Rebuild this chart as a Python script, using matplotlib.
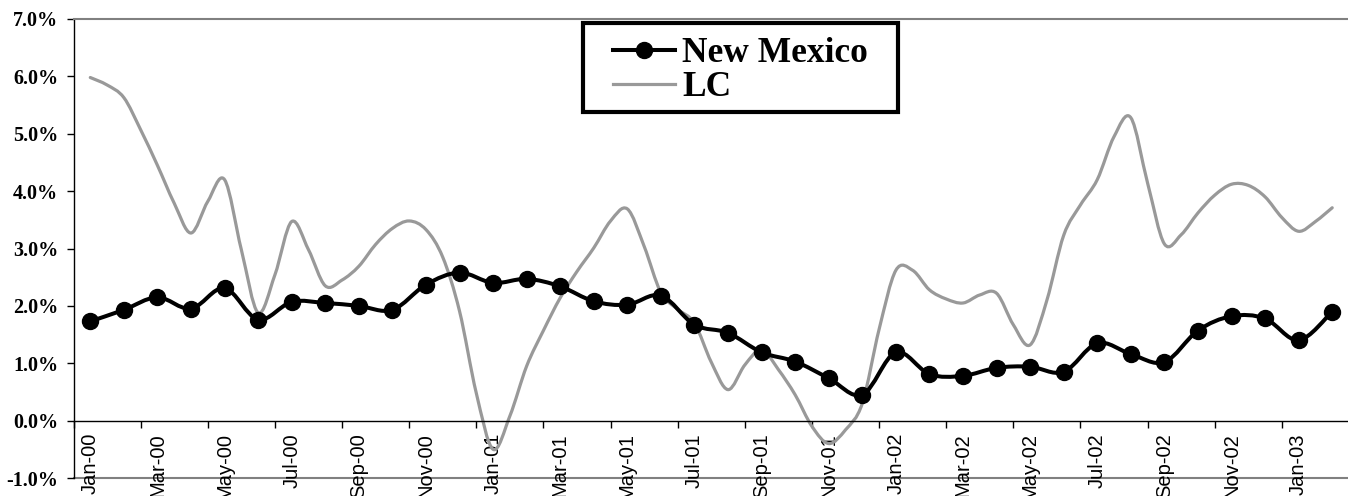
import numpy as np
import matplotlib.pyplot as plt
from matplotlib.lines import Line2D
from matplotlib.patches import PathPatch, Rectangle
from matplotlib.path import Path

# tick labels every second month along the category axis
month_labels = ['Jan-00', 'Mar-00', 'May-00', 'Jul-00', 'Sep-00', 'Nov-00',
                'Jan-01', 'Mar-01', 'May-01', 'Jul-01', 'Sep-01', 'Nov-01',
                'Jan-02', 'Mar-02', 'May-02', 'Jul-02', 'Sep-02', 'Nov-02',
                'Jan-03']

# monthly growth rate, Jan-00 .. Feb-03 (percent)
new_mexico = [1.73, 1.93, 2.15, 1.95, 2.31, 1.76, 2.07, 2.05, 2.00, 1.93,
              2.37, 2.58, 2.40, 2.47, 2.34, 2.08, 2.02, 2.18, 1.67, 1.53,
              1.19, 1.03, 0.74, 0.45, 1.19, 0.81, 0.78, 0.92, 0.94, 0.85,
              1.35, 1.16, 1.02, 1.57, 1.82, 1.78, 1.40, 1.90]

# LC series, sampled twice a month over the same span (percent)
lc = [5.98, 5.85, 5.63, 5.07, 4.45, 3.79, 3.27, 3.82, 4.20, 2.98,
      1.88, 2.54, 3.47, 2.98, 2.35, 2.45, 2.69, 3.07, 3.35, 3.48,
      3.33, 2.85, 1.91, 0.48, -0.50, 0.08, 0.95, 1.57, 2.14, 2.60,
      3.01, 3.48, 3.69, 3.04, 2.23, 1.94, 1.70, 1.02, 0.54, 0.97,
      1.24, 0.89, 0.45, -0.10, -0.40, -0.16, 0.30, 1.59, 2.62, 2.62,
      2.28, 2.12, 2.05, 2.19, 2.22, 1.67, 1.32, 2.10, 3.23, 3.76,
      4.20, 4.95, 5.28, 4.14, 3.08, 3.24, 3.62, 3.93, 4.12, 4.10,
      3.90, 3.54, 3.30, 3.47, 3.71]

serif_bold = {'family': 'Liberation Serif', 'weight': 'bold'}
NM_KW = dict(color='black', lw=2.9)
LC_KW = dict(color='#999999', lw=2.3)


def smoothed(x, y):
    # spreadsheet-style smoothed line: cubic Bezier through every point
    pts = np.column_stack([x, y])
    n = len(pts)
    verts = [pts[0]]
    codes = [Path.MOVETO]
    for i in range(n - 1):
        p0 = pts[max(i - 1, 0)]
        p1 = pts[i]
        p2 = pts[i + 1]
        p3 = pts[min(i + 2, n - 1)]
        verts += [p1 + (p2 - p0) / 6, p2 - (p3 - p1) / 6, p2]
        codes += [Path.CURVE4] * 3
    return Path(verts, codes)


fig = plt.figure(figsize=(13.48, 4.96), dpi=100)
ax = fig.add_axes([73.5 / 1348, 18 / 496, 1275.5 / 1348, 459 / 496])

x_nm = np.arange(len(new_mexico))
x_lc = np.arange(len(lc)) / 2

ax.add_patch(PathPatch(smoothed(x_lc, lc), fill=False, edgecolor=LC_KW['color'],
                       lw=LC_KW['lw'], capstyle='round', joinstyle='round',
                       zorder=2))
ax.add_patch(PathPatch(smoothed(x_nm, new_mexico), fill=False,
                       edgecolor=NM_KW['color'], lw=NM_KW['lw'],
                       capstyle='round', joinstyle='round', zorder=3))
ax.plot(x_nm, new_mexico, ls='none', marker='o', ms=11.5, color='black',
        zorder=3)

ax.set_xlim(-0.5, len(new_mexico) - 0.5)
ax.set_ylim(-1, 7)

# category axis crosses at 0%, tick marks sit between categories
ax.spines['bottom'].set_position(('data', 0))
ax.spines['bottom'].set_linewidth(1.0)
ax.spines['left'].set_linewidth(1.0)
ax.spines['right'].set_visible(False)
ax.spines['top'].set_color('#808080')
ax.spines['top'].set_linewidth(1.5)
ax.axhline(-1, color='#808080', lw=1.5, clip_on=False, zorder=0.5)

ax.set_xticks(np.arange(-0.5, len(new_mexico), 2))
ax.set_xticklabels([])
ax.set_xticks(np.arange(0, len(new_mexico), 2), minor=True)
ax.set_xticklabels(month_labels, minor=True, rotation=90,
                   fontfamily='Liberation Sans', fontsize=14.5)
ax.tick_params(axis='x', which='major', length=5, width=1, direction='out')
ax.tick_params(axis='x', which='minor', length=0, pad=9)

yticks = np.arange(-1, 8)
ax.set_yticks(yticks)
ax.set_yticklabels([f'{v:.1f}%' for v in yticks], fontdict=serif_bold,
                   fontsize=14.5)
ax.tick_params(axis='y', length=5, width=1, direction='out', pad=6)

handles = [Line2D([], [], marker='o', ms=11.5, **NM_KW), Line2D([], [], **LC_KW)]
leg = ax.legend(handles, ['New Mexico', 'LC'], loc='upper left',
                bbox_to_anchor=(606 / 1348, 1 - 30 / 496),
                bbox_transform=fig.transFigure,
                prop={**serif_bold, 'size': 25.5}, frameon=False,
                borderpad=0.2, borderaxespad=0, handlelength=1.75,
                handletextpad=0.2, labelspacing=0.04)
leg.set_zorder(6)

# heavy black box around the legend, wider padding at the sides
fig.canvas.draw()
bb = leg.get_window_extent().transformed(fig.transFigure.inverted())
pad_x = 23 / 1348
pad_top = 7 / 496
box = Rectangle((bb.x0 - pad_x, bb.y0), bb.width + 2 * pad_x,
                bb.height + pad_top, transform=fig.transFigure,
                facecolor='white', edgecolor='black', lw=3, zorder=5,
                clip_on=False)
ax.add_patch(box)

fig.savefig('out.png', dpi=100)
